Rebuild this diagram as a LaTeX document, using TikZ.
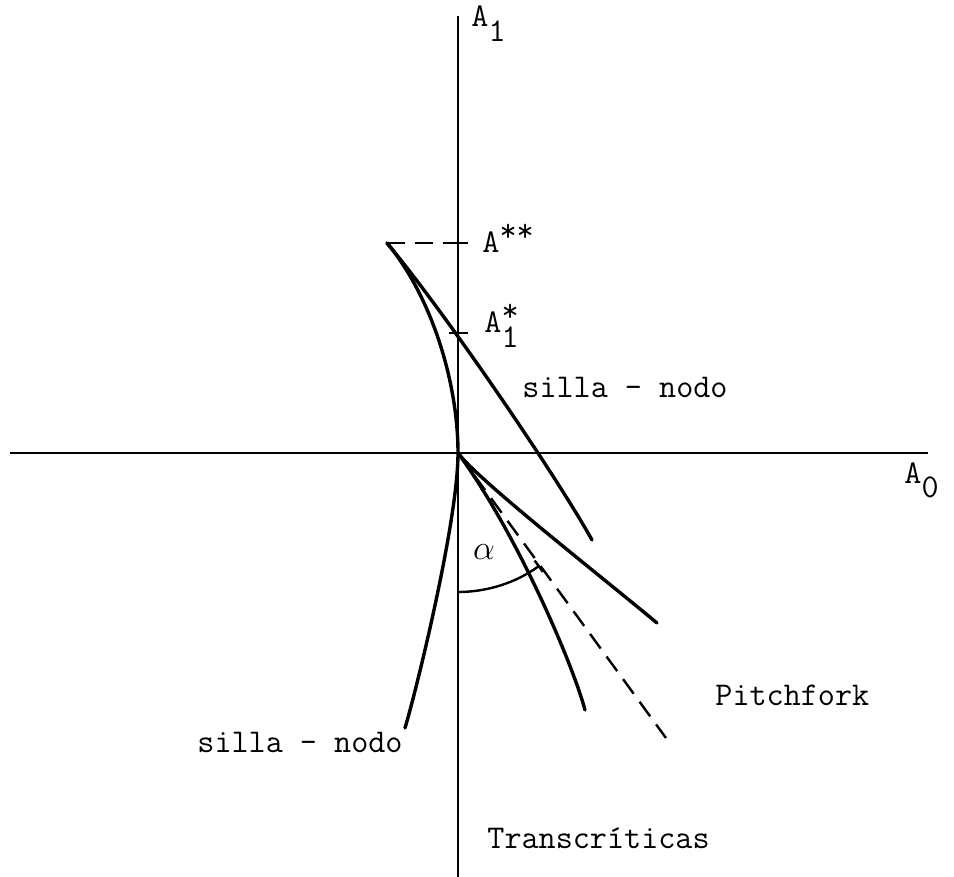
\documentclass[tikz,border=0pt]{standalone}
\usepackage{fontspec}
\usetikzlibrary{arrows.meta}
\newcommand{\lowr}[1]{\raisebox{-0.45em}{#1}}
\newcommand{\highr}[1]{\raisebox{0.35em}{#1}}

\begin{document}
\begin{tikzpicture}[
  x=0.5pt, y=-0.5pt,
  font=\ttfamily\fontsize{16.6pt}{20pt}\selectfont,
  axis/.style={draw=black, line width=1.2pt},
  branch/.style={draw=black, line width=1.7pt, line cap=round},
  guide/.style={draw=black, line width=1.2pt, dash pattern=on 9pt off 5pt},
  lab/.style={anchor=base west, inner sep=0pt}
]
\useasboundingbox (0,0) rectangle (954,877);
\coordinate (O) at (458,453);
\coordinate (cusp) at (387,243);
\coordinate (xl) at (10,453);
\coordinate (xr) at (928,453);
\coordinate (yt) at (458,16);
\coordinate (yb) at (458,877);
\coordinate (sn1) at (592,540);
\coordinate (sn2) at (405,728);
\coordinate (pf) at (657,623);
\coordinate (tc) at (585,710);
\coordinate (dl) at (666,738);
\coordinate (arcS) at (458,592);

\draw[axis] (xl) -- (xr);
\draw[axis] (yb) -- (yt);
\foreach \y/\id in {243/ss,333/s} {
  \coordinate (t\id) at (458,\y);
  \draw[axis] ([xshift=-4.5pt]t\id) -- ([xshift=5pt]t\id);
}
\draw[guide] (cusp) -- (tss);

\draw[branch] (cusp) .. controls (447,315) and (557,477) .. (sn1);
\draw[branch] (cusp) .. controls (432,297) and (458,383) .. (O);
\draw[branch] (O) .. controls (458,520) and (417,688) .. (sn2);
\draw[branch] (O) .. controls (478,480) and (597,573) .. (pf);
\draw[branch] (O) .. controls (518,535) and (573,665) .. (tc);
\draw[guide] (O) -- (dl);
\draw[axis, -{Bar[width=7pt]}] (arcS) arc[start angle=90, end angle=54, radius=139];

\node[lab] (lA1) at (471,27) {A\lowr{1}};
\node[lab] (lA0) at (904,483) {A\lowr{0}};
\node[lab] (lAss) at (482,253) {A\highr{**}};
\node[lab] (lAs) at (484,333) {A\rlap{\highr{*}}\lowr{1}};
\node[lab] (lsn1) at (522,398) {silla - nodo};
\node[lab] (lsn2) at (197,752) {silla - nodo};
\node[lab] (lpf) at (715,705) {Pitchfork};
\node[lab] (ltc) at (487,848) {Transcríticas};
\node (lalpha) at (484,552) {$\alpha$};
\end{tikzpicture}
\end{document}
